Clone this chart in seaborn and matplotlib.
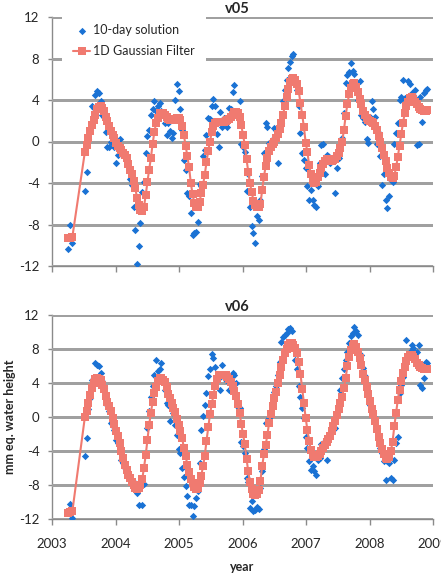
import matplotlib
matplotlib.use('Agg')
import matplotlib.pyplot as plt
import seaborn as sns
import pandas as pd
import numpy as np

# 10-day dates: three early solutions, a gap, then a regular 10-day series
early_dates = ['2003-04-03', '2003-04-13', '2003-04-28']
regular_start = '2003-07-09'
n_regular = 198

v05_solution = [
    -10.4, -8.0, -9.8,
    -4.8, -2.9, 0.2, 1.1, 3.4, 3.2, 4.5, 4.9, 4.7, 3.9,
    2.6, 2.4, 0.9, -0.5, -0.5, 0.0, 0.3, -0.5, -2.1, -1.3,
    0.2, -0.6, -1.1, -1.5, -1.9, -2.4, -3.6, -4.2, -6.3, -8.5,
    -11.8, -10.1, -7.9, -4.9, -3.9, -1.1, 0.5, 1.1, 2.6, 3.1,
    3.9, 2.9, 3.4, 3.7, 2.9, 2.6, 1.8, 0.6, 1.8, 1.0,
    0.3, 0.8, 4.0, 5.5, 4.9, 3.1, 1.1,
    -1.8, -2.7, -5.0, -5.3, -6.9, -9.0, -8.8, -8.7, -7.8, -4.1,
    -4.3, -1.4, -0.8, 0.6, 2.3, 2.2, 3.4, 4.1, 3.4, 0.7,
    -0.5, 2.8, 1.4, 2.3, 2.0, 1.4, 3.2, 3.1, 4.8, 5.4,
    2.7, 2.4, 3.9, -0.2, -0.5, -1.0, -4.8, -3.1, -6.3, -8.1,
    -8.8, -9.8, -7.2, -7.6, -5.6, -3.3, -1.1, 1.8, 1.4, -0.1,
    -0.5, 0.2, 1.3, 1.1, -2.1, 1.4, 1.8, 3.9, 5.0, 5.9,
    7.1, 7.7, 8.2, 8.4, 5.8, 5.0, 3.4, 0.8, -1.1, -1.8,
    -2.6, -4.3, -5.6, -4.7, -5.6, -6.1, -6.3, -4.3, -2.1, -0.3,
    -0.2, -3.1, -1.3, -1.4, -2.1, -1.6, -1.8, -5.0, -2.6, -1.6,
    -0.8, 0.3, 2.7, 5.6, 6.4, 6.7, 7.6, 6.8, 6.5, 5.0,
    4.0, 5.8, 2.6, 2.3, 1.9, 0.2, -0.1, 2.4, 3.9, 3.1,
    2.4, -0.2, 0.8, -1.4, -4.2, -3.1, -5.6, -6.4, -5.3, -3.7,
    -3.9, -0.2, 0.8, 1.8, 4.0, 4.3, 5.9, 4.2, 4.0, 5.8,
    5.5, 4.7, 4.5, 5.0, -0.3, -0.2, 4.3, 1.9, 4.7, 5.0, 5.1,
]

v05_filter = [
    -9.3, -9.3, -9.2,
    -1.0, -0.3, 0.3, 1.0, 1.6, 2.1, 2.6, 3.1, 3.3, 3.4,
    3.2, 2.9, 2.4, 2.0, 1.5, 1.0, 0.6, 0.3, -0.1, -0.4,
    -0.6, -0.8, -1.1, -1.3, -1.6, -2.2, -2.7, -3.1, -3.8, -4.5,
    -5.4, -6.1, -6.6, -6.7, -6.3, -5.2, -3.9, -2.7, -1.6, -0.2,
    0.9, 1.8, 2.3, 2.7, 2.7, 2.7, 2.6, 2.4, 2.2, 2.1,
    2.1, 2.1, 2.2, 2.3, 2.3, 2.1, 1.5, 0.6, -0.4, -1.4,
    -2.5, -4.0, -5.1, -5.9, -6.3, -6.3, -5.8, -5.0, -4.2, -3.2,
    -2.0, -0.9, 0.0, 0.9, 1.5, 1.8, 1.9, 1.9, 1.9, 1.9,
    1.9, 2.0, 2.1, 2.2, 2.4, 2.6, 2.8, 2.8, 2.7, 2.4,
    1.6, 0.6, -0.3, -1.7, -2.9, -4.0, -4.9, -5.7, -6.1, -6.3,
    -6.3, -6.0, -4.7, -3.4, -2.4, -1.6, -0.9, -0.5, -0.2, 0.0,
    0.3, 0.7, 1.2, 1.8, 2.6, 3.4, 4.3, 5.1, 5.7, 6.0,
    6.1, 5.9, 5.5, 4.9, 3.7, 2.6, 1.4, -0.1, -1.0, -2.3,
    -3.1, -3.7, -4.0, -3.9, -3.4, -3.0, -2.6, -2.2, -1.9, -1.7,
    -1.8, -1.9, -1.9, -1.8, -1.7, -1.4, -1.1, -0.6, 0.0, 1.1,
    2.5, 3.6, 4.6, 5.2, 5.5, 5.6, 5.3, 4.8, 4.1, 3.6,
    2.9, 2.6, 2.3, 2.1, 2.0, 1.9, 1.8, 1.5, 1.1, 0.5,
    0.0, -0.6, -1.3, -1.9, -2.6, -3.0, -3.4, -3.5, -3.3, -2.5,
    -1.5, -0.4, 0.7, 1.8, 2.7, 3.4, 3.8, 4.2, 4.3, 4.1,
    3.8, 3.6, 3.3, 3.1, 3.0, 2.9, 2.9, 3.0,
]

v06_solution = [
    -11.2, -10.2, -11.9,
    -4.6, -2.5, 0.9, 2.2, 4.4, 4.5, 6.3, 6.1, 6.0, 5.2,
    4.2, 3.4, 2.2, 1.4, 0.7, -0.7, -1.1, -1.5, -2.7, -3.1,
    -4.1, -5.0, -5.4, -6.0, -6.4, -6.6, -7.2, -7.5, -7.7,
    -8.1, -8.9, -10.3, -8.1, -10.3, -7.9, -4.3, -1.3, 0.7, 2.4,
    3.6, 5.0, 6.7, 5.4, 5.6, 6.3, 4.4, 3.2, 1.6,
    1.4, -0.5, 1.1, 0.5, -0.9, -2.1, -3.8, -4.2, -6.0, -7.0,
    -8.1, -9.3, -10.3, -10.3, -11.7, -10.5, -9.5, -8.7, -5.4,
    -1.5, 0.1, 1.4, 2.8, 4.8, 5.6, 7.4, 6.9, 5.9, 4.7,
    4.6, 3.2, 6.1, 4.7, 4.3, 4.8, 3.2, 4.6, 5.2, 4.9,
    4.0, 1.2, 1.1, -2.9, -3.4, -4.2, -7.2, -7.7, -10.7,
    -9.9, -11.1, -10.9, -10.6, -10.8, -8.3, -6.4, -3.8, -0.7, -0.7,
    -0.1, 0.7, 1.6, 3.0, 3.6, 5.0, 6.5, 8.8, 9.4,
    9.7, 9.9, 10.3, 10.5, 10.1, 8.1, 6.7, 5.6, 3.6, 2.4,
    1.1, -0.1, -2.3, -3.6, -5.2, -6.2, -5.8, -6.4, -6.8, -5.0,
    -4.8, -3.2, -3.1, -2.9, -5.0, -2.3, -1.9, -1.4, -0.7,
    -1.3, 0.5, 1.3, 3.2, 4.6, 5.6, 6.7, 7.7, 8.7, 9.5,
    9.9, 10.6, 10.1, 9.7, 6.9, 7.3, 5.8, 4.8, 3.6,
    2.6, 1.4, 1.1, 0.5, -0.1, -1.3, -2.1, -3.6, -4.2, -5.2,
    -7.4, -5.2, -5.4, -7.2, -7.4, -5.0, -3.1, -2.3, 2.8,
    3.8, 4.7, 6.5, 9.1, 7.3, 7.7, 8.5, 8.1, 7.5, 7.7,
    8.5, 3.8, 3.4, 4.6, 6.5, 6.3,
]

v06_filter = [
    -11.3, -11.2, -11.1,
    0.0, 0.7, 1.6, 2.6, 3.4, 4.0, 4.5, 4.6, 4.5, 4.3,
    3.8, 3.3, 2.5, 1.8, 1.3, 0.7, -0.1, -0.8, -1.6, -2.2,
    -3.0, -4.0, -4.8, -5.6, -6.2, -6.8, -7.2, -7.6, -8.0, -8.4,
    -8.5, -8.4, -8.0, -7.3, -6.0, -4.5, -2.7, -0.9, 0.5, 1.8,
    2.8, 3.5, 4.2, 4.6, 4.6, 4.4, 4.1, 3.5, 2.7, 2.2,
    1.7, 1.1, 0.6, -0.2, -0.9, -1.6, -2.5, -3.6, -4.6, -5.6,
    -6.5, -7.3, -7.8, -8.2, -8.5, -8.4, -7.8, -6.9, -5.8, -4.6,
    -2.8, -1.2, 0.3, 1.5, 2.6, 3.7, 4.5, 4.9, 5.0, 5.0,
    5.0, 4.9, 4.7, 4.5, 4.1, 3.7, 3.1, 2.5, 1.5, 0.5,
    -0.8, -2.0, -3.2, -4.9, -6.4, -7.7, -8.5, -9.0, -9.2, -9.1,
    -8.6, -7.5, -5.8, -4.4, -3.3, -2.1, -0.7, 0.4, 1.3, 2.2,
    3.0, 4.0, 5.0, 5.9, 6.7, 7.5, 8.0, 8.5, 8.7, 8.7,
    8.5, 8.1, 7.5, 6.5, 5.1, 3.3, 1.6, -0.1, -1.5, -2.8,
    -3.9, -4.5, -4.7, -4.7, -4.6, -4.3, -4.0, -3.7, -3.3, -2.9,
    -2.6, -2.2, -1.6, -1.1, -0.5, 0.2, 0.9, 1.7, 2.4, 3.4,
    4.6, 6.0, 7.1, 7.9, 8.4, 8.6, 8.2, 7.6, 6.9, 6.1,
    5.1, 4.3, 3.5, 2.7, 1.9, 1.0, 0.3, -0.5, -1.4, -2.3,
    -3.0, -3.8, -4.4, -4.8, -4.9, -4.7, -4.0, -2.9, -1.1, 0.5,
    2.0, 3.2, 4.2, 5.2, 5.9, 6.6, 7.1, 7.3, 7.3, 7.1,
    6.8, 6.4, 6.1, 5.9, 5.8, 5.7, 5.6, 5.6,
]

year_ticks = [2003, 2004, 2005, 2006, 2007, 2008, 2009]
y_ticks = [-12, -8, -4, 0, 4, 8, 12]

BLUE = '#1a72d4'
RED = '#f07a70'
GRID = '#a0a0a0'
AXIS = '#8a8a8a'


def decimal_year(dates):
    dates = pd.DatetimeIndex(dates)
    start = pd.to_datetime(dates.year.astype(str) + '-01-01')
    length = np.where(dates.is_leap_year, 366.0, 365.0)
    return dates.year + (dates - start).days / length


dates = pd.DatetimeIndex(early_dates).append(
    pd.date_range(regular_start, periods=n_regular, freq='10D'))
t = decimal_year(dates)

sns.set_style('white')
plt.rcParams['font.family'] = ['Lato', 'DejaVu Sans']
plt.rcParams['axes.unicode_minus'] = False

fig = plt.figure(figsize=(4.41, 5.76), dpi=100)
ax_top = fig.add_axes([52 / 441, 1 - 266 / 576, 381 / 441, 249 / 576])
ax_bot = fig.add_axes([52 / 441, 1 - 519 / 576, 381 / 441, 204 / 576])

panels = [(ax_top, 'v05', v05_solution, v05_filter),
          (ax_bot, 'v06', v06_solution, v06_filter)]

for ax, name, sol, filt in panels:
    df = pd.DataFrame({'year': t, 'solution': sol, 'filter': filt})
    ax.set_facecolor('white')

    sns.scatterplot(data=df, x='year', y='solution', marker='D', s=14,
                    color=BLUE, linewidth=0, ax=ax, zorder=3,
                    label='10-day solution')
    sns.lineplot(data=df, x='year', y='filter', marker='s', markersize=5.5,
                 markeredgewidth=0, color=RED, linewidth=1.5, sort=False,
                 errorbar=None, ax=ax, zorder=4, label='1D Gaussian Filter')

    ax.set_xlim(2003, 2009)
    ax.set_ylim(-12, 12)
    ax.set_xticks(year_ticks)
    ax.set_yticks(y_ticks)
    ax.set_yticklabels([str(v) for v in y_ticks])
    for side in ['top', 'right']:
        ax.spines[side].set_visible(False)
    for side in ['left', 'bottom']:
        ax.spines[side].set_color(AXIS)
        ax.spines[side].set_linewidth(1)
    ax.tick_params(axis='both', which='major', bottom=True, left=True)
    ax.tick_params(axis='y', direction='out', length=3, width=1, color=AXIS,
                   labelsize=9.5, pad=6)
    ax.tick_params(axis='x', direction='out', length=4, width=1, color=AXIS,
                   labelsize=9.5, pad=10)
    ax.grid(False)

    # horizontal gridlines (Excel style), crisp lines just under the markers
    for v in y_ticks:
        ax.axhline(v, color=GRID, linewidth=1.0, antialiased=False,
                   zorder=2.6)

    ax.set_title(name, fontweight='bold', fontsize=10.5, pad=3, x=0.487)
    ax.set_xlabel('')
    ax.set_ylabel('')

ax_top.tick_params(axis='x', labelbottom=False)
ax_bot.get_legend().remove()

leg = ax_top.legend(loc='upper left', bbox_to_anchor=(0.025, 1.016),
                    frameon=True, facecolor='white', edgecolor='none',
                    framealpha=1, fontsize=9, handlelength=1.4,
                    handletextpad=0.2, labelspacing=0.7, borderpad=0.9,
                    borderaxespad=0)
leg.set_zorder(6)

ax_bot.set_xlabel('year', fontweight='bold', fontsize=9)
ax_bot.xaxis.set_label_coords(0.5, -0.205)
ax_bot.set_ylabel('mm eq. water height', fontweight='bold', fontsize=9)
ax_bot.yaxis.set_label_coords(-0.094, 0.5)

fig.savefig('out.png', dpi=100)
